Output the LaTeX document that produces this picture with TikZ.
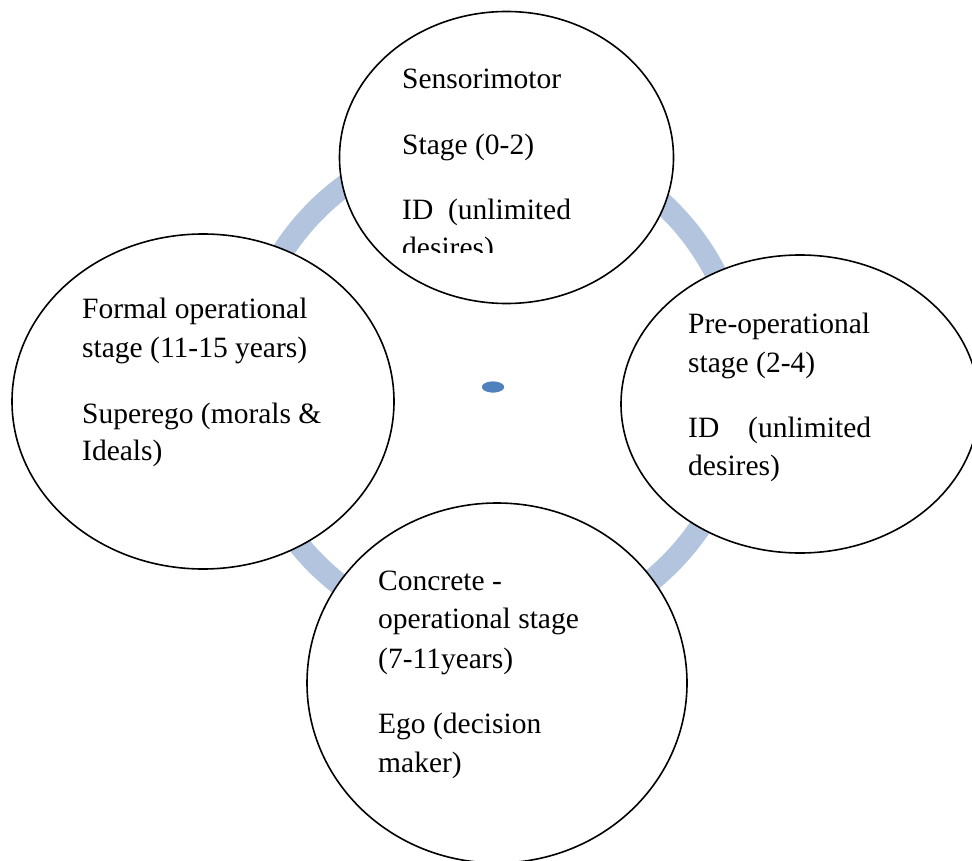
\documentclass[tikz,border=0pt]{standalone}
\usepackage{fontspec}
\setmainfont{Liberation Serif}
\usetikzlibrary{shapes.geometric}
\definecolor{ringblue}{RGB}{179,196,223}
\definecolor{dotblue}{RGB}{79,129,189}
\tikzset{
  stage/.style={ellipse, draw=black, line width=1.6pt, fill=white, inner sep=0pt, outer sep=0pt},
  txt/.style={anchor=base west, inner sep=0pt, font=\fontsize{29.5}{36}\selectfont}
}
\begin{document}
\begin{tikzpicture}[x=1pt,y=-1pt]
\useasboundingbox (0,0) rectangle (972,861);
% centre dot and ring
\node[ellipse, fill=dotblue, minimum width=22pt, minimum height=11pt, inner sep=0pt] (dot) at (493,387) {};
\draw[ringblue, line width=22pt] (dot.center) circle[radius=250];
\node[ellipse, fill=dotblue, minimum width=22pt, minimum height=11pt, inner sep=0pt] (dotfront) at (493,387) {};
% stage ellipses
\node[stage, minimum width=334pt, minimum height=292pt] (top) at (506.5,157.5) {};
\node[stage, minimum width=382pt, minimum height=335pt] (left) at (203,401.5) {};
\node[stage, minimum width=358pt, minimum height=298pt] (right) at (800,404) {};
\node[stage, minimum width=380pt, minimum height=360pt] (bottom) at (497,683) {};
% top text
\begin{scope}
\clip (340,0) rectangle (680,253);
\node[txt] (t1) at (402,89) {Sensorimotor};
\node[txt] (t2) at (402,155) {Stage (0-2)};
\node[txt] (t3) at (402,220) {ID\ \ (unlimited};
\node[txt] (t4) at (402,258) {desires)};
\end{scope}
% left text
\node[txt] (l1) at (82,318) {Formal operational};
\node[txt] (l2) at (82,357) {stage (11-15 years)};
\node[txt] (l3) at (82,423) {Superego (morals \&};
\node[txt] (l4) at (82,460) {Ideals)};
% right text
\node[txt] (r1) at (688,333) {Pre-operational};
\node[txt] (r2) at (688,372) {stage (2-4)};
\node[txt] (r3) at (688,437) {ID};
\node[txt] (r3b) at (748,437) {(unlimited};
\node[txt] (r4) at (688,475) {desires)};
% bottom text
\node[txt] (b1) at (378,590) {Concrete -};
\node[txt] (b2) at (378,628) {operational stage};
\node[txt] (b3) at (378,668) {(7-11years)};
\node[txt] (b4) at (378,733) {Ego (decision};
\node[txt] (b5) at (378,772) {maker)};
\end{tikzpicture}
\end{document}
